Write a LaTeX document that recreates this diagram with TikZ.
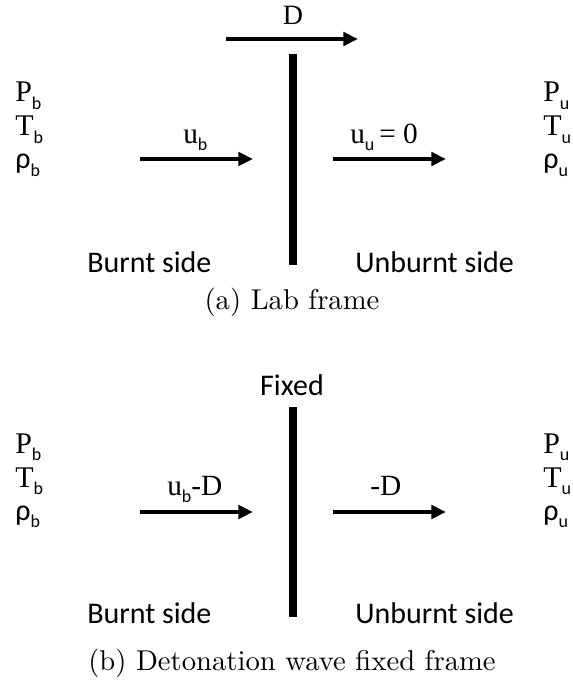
\documentclass[tikz,border=0pt]{standalone}
\usepackage{fontspec}
\newfontfamily\tnr{Liberation Serif}
\newfontfamily\calf{Carlito}
\newfontfamily\capf{lmroman10-regular.otf}
\usetikzlibrary{arrows.meta}
\newcommand\mysub[1]{\raisebox{-5.5pt}{\fontsize{13.5}{13.5}\selectfont\calf #1}}
\newcommand\qvar[2]{{\fontsize{22.5}{22.5}\selectfont\tnr #1}\mysub{#2}}
\newcommand\rvar[1]{{\fontsize{22.5}{22.5}\selectfont\calf ρ}\mysub{#1}}
\begin{document}
\begin{tikzpicture}[x=0.75pt,y=-0.75pt,
  lbl/.style={inner sep=0pt,anchor=base west},
  side/.style={inner sep=0pt,anchor=base west,font=\fontsize{22.5}{22.5}\selectfont\calf},
  figcap/.style={inner sep=0pt,anchor=base,font=\fontsize{21.5}{24}\selectfont\capf},
  vel/.style={line width=3.5pt,-{Triangle[length=11pt,width=10pt]}},
  wall/.style={line width=6pt},
  ulbl/.style={inner sep=0pt,anchor=base west,font=\fontsize{22}{22}\selectfont\tnr}]
\useasboundingbox (0,0) rectangle (572,681);
% ===== (a) Lab frame =====
\node[lbl] (Pb1) at (15,102) {\qvar{P}{b}};
\node[lbl] (Tb1) at (15,136) {\qvar{T}{b}};
\node[lbl] (rb1) at (15,169) {\rvar{b}};
\node[lbl] (Pu1) at (543,102) {\qvar{P}{u}};
\node[lbl] (Tu1) at (543,136) {\qvar{T}{u}};
\node[lbl] (ru1) at (543,169) {\rvar{u}};
\coordinate (Ds) at (226,39);
\coordinate (De) at (358,39);
\draw[vel] (Ds) -- (De);
\node[inner sep=0pt,anchor=base,font=\fontsize{21}{21}\selectfont\tnr] (Dl) at (293,25) {D};
\coordinate (w1t) at (292.5,54);
\coordinate (w1b) at (292.5,265);
\draw[wall] (w1t) -- (w1b);
\coordinate (ub1s) at (140,159);
\coordinate (ub1e) at (253,159);
\draw[vel] (ub1s) -- (ub1e);
\node[ulbl] (ubl1) at (183,143) {u\mysub{b}};
\coordinate (uu1s) at (333,159);
\coordinate (uu1e) at (446,159);
\draw[vel] (uu1s) -- (uu1e);
\node[ulbl] (uul1) at (350,143) {u\mysub{u}\,= 0};
\node[side] (bs1) at (87,272) {Burnt side};
\node[side] (us1) at (355,272) {Unburnt side};
\node[figcap] (cap1) at (292,309) {(a) Lab frame};
% ===== (b) Detonation wave fixed frame =====
\node[lbl] (Pb2) at (15,453) {\qvar{P}{b}};
\node[lbl] (Tb2) at (15,487) {\qvar{T}{b}};
\node[lbl] (rb2) at (15,520) {\rvar{b}};
\node[lbl] (Pu2) at (543,453) {\qvar{P}{u}};
\node[lbl] (Tu2) at (543,487) {\qvar{T}{u}};
\node[lbl] (ru2) at (543,520) {\rvar{u}};
\node[inner sep=0pt,anchor=base,font=\fontsize{22.5}{22.5}\selectfont\calf] (fx) at (292,395) {Fixed};
\coordinate (w2t) at (292.5,407);
\coordinate (w2b) at (292.5,617);
\draw[wall] (w2t) -- (w2b);
\coordinate (ub2s) at (140,512);
\coordinate (ub2e) at (253,512);
\draw[vel] (ub2s) -- (ub2e);
\node[ulbl] (ubl2) at (167,495) {u\mysub{b}-D};
\coordinate (uu2s) at (333,512);
\coordinate (uu2e) at (446,512);
\draw[vel] (uu2s) -- (uu2e);
\node[ulbl] (uul2) at (370,495) {-D};
\node[side] (bs2) at (87,623) {Burnt side};
\node[side] (us2) at (355,623) {Unburnt side};
\node[figcap] (cap2) at (292,670) {(b) Detonation wave fixed frame};
\end{tikzpicture}
\end{document}
